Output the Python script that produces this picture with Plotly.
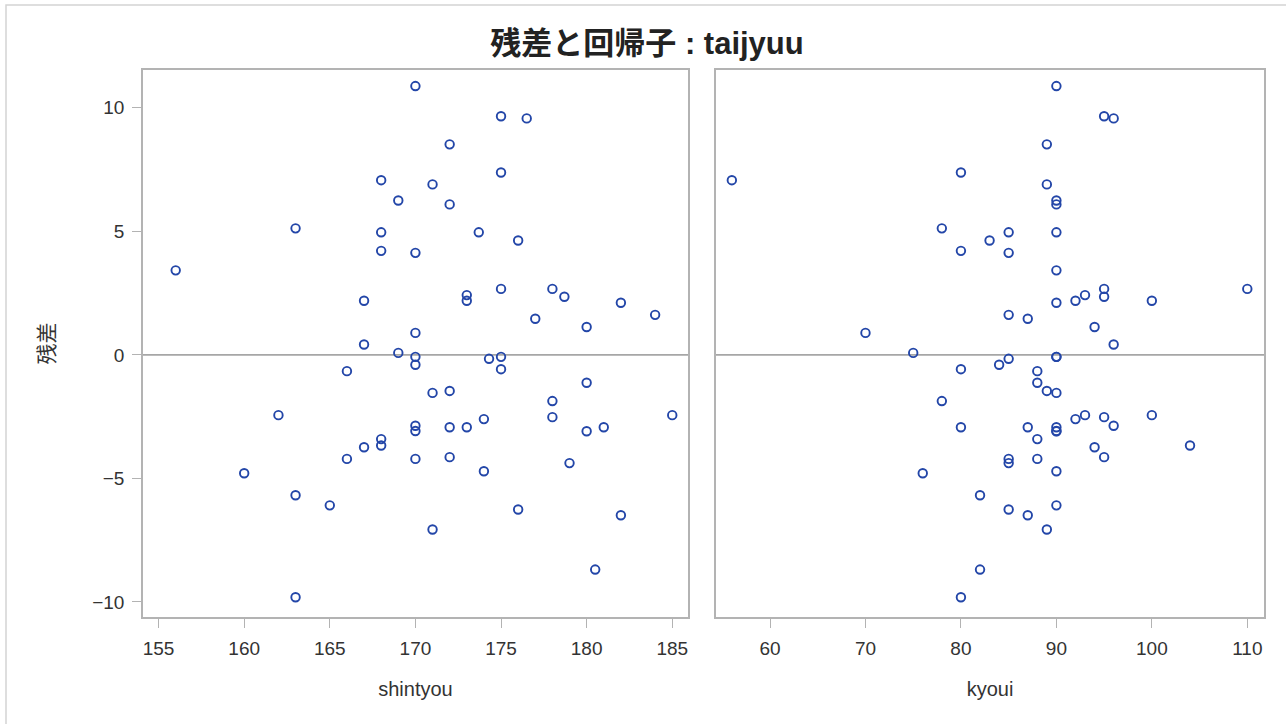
import plotly.graph_objects as go

residual = [10.88, 9.66, 9.57, 8.52, 7.38, 7.07, 6.90, 6.25, 6.09, 5.12,
            4.96, 4.96, 4.63, 4.21, 4.13, 3.42, 2.67, 2.67, 2.42, 2.35,
            2.19, 2.19, 2.11, 1.62, 1.46, 1.13, 0.89, 0.42, 0.08, -0.08,
            -0.08, -0.16, -0.40, -0.58, -0.66, -1.13, -1.46, -1.54, -1.87, -2.44,
            -2.44, -2.52, -2.60, -2.87, -2.93, -2.93, -2.93, -3.08, -3.09, -3.41,
            -3.67, -3.74, -4.14, -4.21, -4.21, -4.38, -4.71, -4.79, -5.68, -6.09,
            -6.26, -6.49, -7.07, -8.69, -9.81]
shintyou = [170, 175, 176.5, 172, 175, 168, 171, 169, 172, 163,
            168, 173.7, 176, 168, 170, 156, 175, 178, 173, 178.7,
            167, 173, 182, 184, 177, 180, 170, 167, 169, 170,
            175, 174.3, 170, 175, 166, 180, 172, 171, 178, 162,
            185, 178, 174, 170, 172, 173, 181, 170, 180, 168,
            168, 167, 172, 166, 170, 179, 174, 160, 163, 165,
            176, 182, 171, 180.5, 163]
kyoui = [90, 95, 96, 89, 80, 56, 89, 90, 90, 78,
         85, 90, 83, 80, 85, 90, 95, 110, 93, 95,
         92, 100, 90, 85, 87, 94, 70, 96, 75, 90,
         90, 85, 84, 80, 88, 88, 89, 90, 78, 93,
         100, 95, 92, 96, 80, 87, 90, 90, 90, 88,
         104, 94, 95, 88, 85, 85, 90, 76, 82, 90,
         85, 87, 89, 82, 80]

x1_ticks = [155, 160, 165, 170, 175, 180, 185]
x2_ticks = [60, 70, 80, 90, 100, 110]
y_ticks = [-10, -5, 0, 5, 10]
y_ticktext = ["−10", "−5", "0", "5", "10"]

title_text = "<b>残差と回帰子 : taijyuu</b>"
x1_title = "shintyou"
x2_title = "kyoui"
y_title = "残差"

FONT = "Liberation Sans, Noto Sans CJK JP, sans-serif"
MARK = "#2346a8"
FRAME = "#b3b3b3"
TXT = "#333333"

marker = dict(symbol="circle-open", size=8.5, color=MARK, line=dict(width=1.9, color=MARK))

fig = go.Figure()
fig.add_trace(go.Scatter(x=shintyou, y=residual, mode="markers", marker=marker,
                         xaxis="x", yaxis="y", showlegend=False))
fig.add_trace(go.Scatter(x=kyoui, y=residual, mode="markers", marker=marker,
                         xaxis="x2", yaxis="y2", showlegend=False))

W, H = 1286, 724
ml, mr, mt, mb = 143, 22, 70, 107
pw = W - ml - mr
ph = H - mt - mb

def px_x(p):
    return (p - ml) / pw

def px_y(p):
    return (H - mb - p) / ph

axis_common = dict(showgrid=False, showline=True, linecolor=FRAME, linewidth=1.5,
                   mirror=True, ticks="outside", ticklen=9, tickwidth=1.3,
                   tickcolor=FRAME, tickfont=dict(size=19, color=TXT, family=FONT),
                   zeroline=False)

fig.update_layout(
    width=W, height=H,
    margin=dict(l=ml, r=mr, t=mt, b=mb),
    paper_bgcolor="white", plot_bgcolor="white",
    font=dict(family=FONT, color="#222222"),
    title=dict(text=title_text, x=647 / W, xanchor="center", y=1 - 43 / H,
               yanchor="middle", font=dict(size=31, color="#222222", family=FONT)),
    xaxis=dict(domain=[0, px_x(688)], range=[154.09, 185.92], tickvals=x1_ticks,
               title=dict(text=x1_title, font=dict(size=20, color=TXT), standoff=24),
               anchor="y", ticklabelstandoff=4, **axis_common),
    xaxis2=dict(domain=[px_x(716), 1], range=[54.34, 111.75], tickvals=x2_ticks,
                title=dict(text=x2_title, font=dict(size=20, color=TXT), standoff=24),
                anchor="y2", ticklabelstandoff=4, **axis_common),
    yaxis=dict(domain=[0, 1], range=[-10.61, 11.53], tickvals=y_ticks,
               ticktext=y_ticktext,
               title=dict(text=y_title, font=dict(size=21, color=TXT), standoff=32),
               anchor="x", ticklabelstandoff=4, **axis_common),
    yaxis2=dict(domain=[0, 1], matches="y", range=[-10.61, 11.53], anchor="x2",
                showticklabels=False, showgrid=False, showline=True, linecolor=FRAME,
                linewidth=1.5, mirror=True, ticks="", zeroline=False),
)

# zero reference lines
for xr, yr in (("x domain", "y"), ("x2 domain", "y2")):
    fig.add_shape(type="line", xref=xr, yref=yr, x0=0, x1=1, y0=0, y1=0,
                  line=dict(color="#a6a6a6", width=1.6), layer="below")

# outer border of the graph area
fig.add_shape(type="rect", xref="paper", yref="paper",
              x0=px_x(6), x1=px_x(1292), y0=px_y(730), y1=px_y(5),
              line=dict(color="#d4d4d4", width=1.5), layer="below")

fig.write_html("out.html", config={"displayModeBar": False},
               post_script="document.body.style.margin='0';document.body.style.overflow='hidden';")
